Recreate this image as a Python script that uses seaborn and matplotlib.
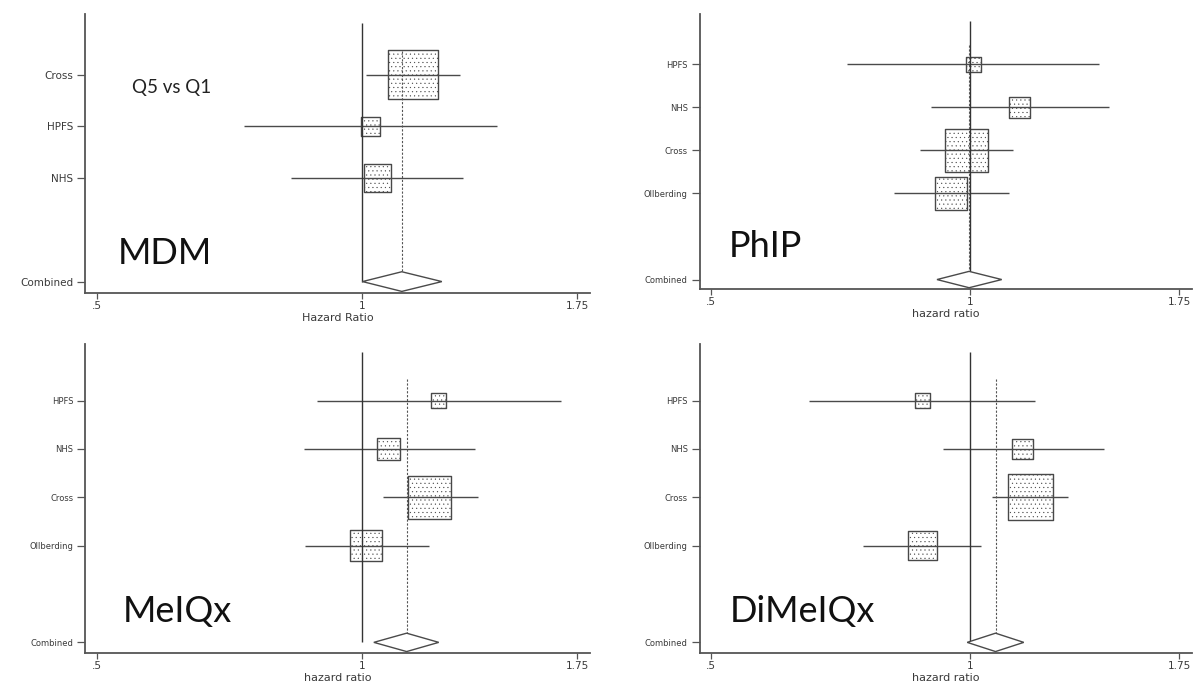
import numpy as np
import pandas as pd
import matplotlib
matplotlib.use('Agg')
import matplotlib.pyplot as plt
from matplotlib.ticker import FixedLocator, NullLocator
import seaborn as sns

# MDM, Q5 vs Q1
mdm_study = ['Cross', 'HPFS', 'NHS']
mdm_hr = [1.14, 1.02, 1.04]
mdm_lo = [1.01, 0.735, 0.83]
mdm_hi = [1.29, 1.42, 1.30]
mdm_wt = [68.6, 9.9, 21.5]
mdm_comb = [1.108, 1.0, 1.23]

# PhIP
phip_study = ['HPFS', 'NHS', 'Cross', 'Ollberding']
phip_hr = [1.01, 1.14, 0.99, 0.95]
phip_lo = [0.72, 0.90, 0.875, 0.815]
phip_hi = [1.41, 1.45, 1.12, 1.11]
phip_wt = [6.2, 12.7, 51.0, 30.0]
phip_comb = [0.997, 0.915, 1.088]

# MeIQx
meiqx_study = ['HPFS', 'NHS', 'Cross', 'Ollberding']
meiqx_hr = [1.22, 1.07, 1.19, 1.01]
meiqx_lo = [0.887, 0.858, 1.055, 0.86]
meiqx_hi = [1.68, 1.34, 1.35, 1.19]
meiqx_wt = [6.5, 14.1, 51.6, 27.8]
meiqx_comb = [1.122, 1.03, 1.22]

# DiMeIQx
dimeiqx_study = ['HPFS', 'NHS', 'Cross', 'Ollberding']
dimeiqx_hr = [0.88, 1.15, 1.175, 0.88]
dimeiqx_lo = [0.65, 0.93, 1.06, 0.75]
dimeiqx_hi = [1.19, 1.43, 1.30, 1.03]
dimeiqx_wt = [6.1, 11.9, 58.4, 23.7]
dimeiqx_comb = [1.07, 0.992, 1.154]

x_ticks = [0.5, 1, 1.75]
x_ticklabels = ['.5', '1', '1.75']

sns.set_style('ticks')
plt.rcParams['font.family'] = ['DejaVu Sans']
plt.rcParams['hatch.color'] = '#aaaaaa'
plt.rcParams['hatch.linewidth'] = 0.3

fig = plt.figure(figsize=(11.96, 6.81), dpi=100)

GRAY = '#4a4a4a'


def forest(ax, study, hr, lo, hi, wt, comb, title, xlabel, fs, title_pos):
    df = pd.DataFrame({'study': study, 'hr': hr, 'lo': lo, 'hi': hi, 'wt': wt})
    df['row'] = np.arange(len(df))
    crow = len(df) + 1

    # study boxes, area ~ weight
    sns.scatterplot(data=df, x='hr', y='row', marker='s',
                    s=df['wt'].to_numpy() * 18.7, color='white',
                    edgecolor='#484848', linewidth=1.0, hatch='....',
                    legend=False, ax=ax, zorder=2)
    # confidence intervals
    ax.hlines(df['row'], df['lo'], df['hi'], color=GRAY, lw=1.0, zorder=3)
    # null line and pooled estimate line
    ax.vlines(1, -1, crow, color='#333333', lw=1.0, zorder=3)
    est, clo, chi = comb
    ax.vlines(est, -0.45, crow, color='#555555', lw=0.8,
              linestyles=(0, (2, 1.5)), zorder=3)
    # pooled diamond
    ax.fill([clo, est, chi, est], [crow, crow - 0.19, crow, crow + 0.19],
            facecolor='white', edgecolor=GRAY, lw=1.0, zorder=4)

    ax.set_xscale('log')
    ax.set_xlim(0.485, 1.81)
    ax.set_ylim(crow + 0.22, -1.17)
    ax.xaxis.set_major_locator(FixedLocator(x_ticks))
    ax.xaxis.set_minor_locator(NullLocator())
    ax.set_xticklabels(x_ticklabels)
    ax.set_yticks(list(df['row']) + [crow])
    ax.set_yticklabels(list(df['study']) + ['Combined'])
    ax.tick_params(axis='y', labelsize=fs, colors='#555555', length=5.5,
                   width=0.9, labelcolor='#3a3a3a', pad=3)
    ax.tick_params(axis='x', labelsize=7.5, colors='#555555', length=4,
                   width=0.9, labelcolor='#3a3a3a', pad=1.5)
    ax.set_xlabel(xlabel, fontsize=8, color='#3a3a3a', labelpad=1.5)
    ax.set_ylabel('')
    sns.despine(ax=ax)
    for sp in ['left', 'bottom']:
        ax.spines[sp].set_color('#555555')
        ax.spines[sp].set_linewidth(1.3)
    ax.text(title_pos[0], title_pos[1], title, transform=ax.transAxes,
            fontsize=26, family='Lato', va='center', ha='left', color='#111111')


ax1 = fig.add_axes([0.0711, 0.5698, 0.4222, 0.4097])
forest(ax1, mdm_study, mdm_hr, mdm_lo, mdm_hi, mdm_wt, mdm_comb,
       'MDM', 'Hazard Ratio', 7.5, (0.065, 0.143))
ax1.text(0.093, 0.735, 'Q5 vs Q1', transform=ax1.transAxes, fontsize=13.5,
         family='Lato', va='center', ha='left', color='#222222')

ax2 = fig.add_axes([0.585, 0.5756, 0.4117, 0.4038])
forest(ax2, phip_study, phip_hr, phip_lo, phip_hi, phip_wt, phip_comb,
       'PhIP', 'hazard ratio', 6, (0.059, 0.153))

ax3 = fig.add_axes([0.0711, 0.0411, 0.4222, 0.4538])
forest(ax3, meiqx_study, meiqx_hr, meiqx_lo, meiqx_hi, meiqx_wt, meiqx_comb,
       'MeIQx', 'hazard ratio', 6, (0.075, 0.133))

ax4 = fig.add_axes([0.585, 0.0411, 0.4117, 0.4538])
forest(ax4, dimeiqx_study, dimeiqx_hr, dimeiqx_lo, dimeiqx_hi, dimeiqx_wt,
       dimeiqx_comb, 'DiMeIQx', 'hazard ratio', 6, (0.061, 0.133))

fig.savefig('out.png', dpi=100)
